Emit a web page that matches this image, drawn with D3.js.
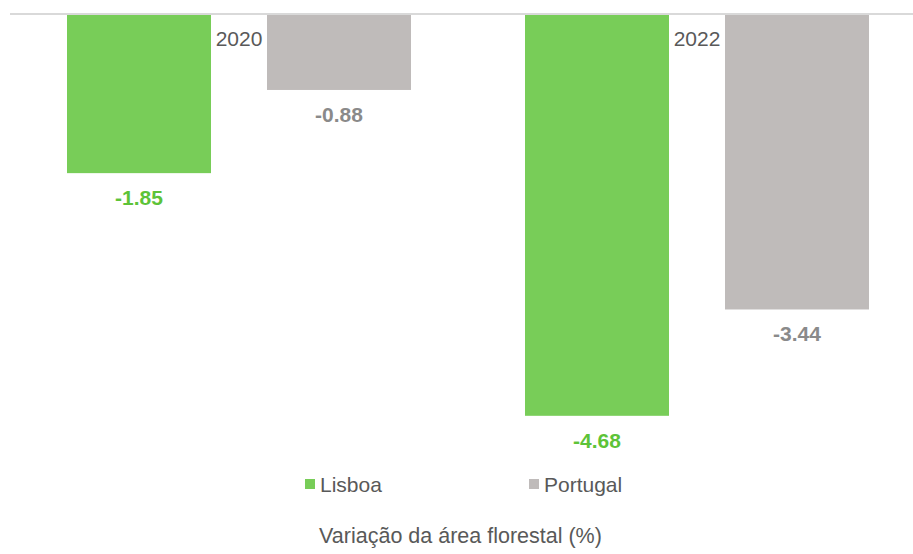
<!DOCTYPE html>
<html><head><meta charset="utf-8">
<script src="https://cdn.jsdelivr.net/npm/d3@7"></script>
<style>html,body{margin:0;padding:0;background:#fff;}svg{display:block;font-family:"Liberation Sans",Arial,sans-serif;}</style>
</head><body>
<svg id="chart" width="913" height="554"></svg>
<script>
const categories = ["2020", "2022"];
const seriesNames = ["Lisboa", "Portugal"];
const lisboa = [-1.85, -4.68];
const portugal = [-0.88, -3.44];
const title = "Variação da área florestal (%)";

const barColors = {Lisboa: "#78cd58", Portugal: "#bfbbba"};
const labelColors = {Lisboa: "#5dc338", Portugal: "#8a8a8a"};
const FONT = "'Liberation Sans', Arial, sans-serif";

const data = categories.map((c, i) => ({cat: c, values: [
  {s: "Lisboa", v: lisboa[i]}, {s: "Portugal", v: portugal[i]}]}));

const svg = d3.select("#chart");
const x0 = d3.scaleBand().domain(categories).range([10, 926]).padding(0);
const x1 = d3.scaleBand().domain(seriesNames).range([0, x0.bandwidth()]).paddingInner(0.28).paddingOuter(0.285);
const y = d3.scaleLinear().domain([0, -5]).range([14.5, 14.5 + 5 * 85.75]);

const g = svg.append("g");
const groups = g.selectAll("g.cat").data(data).join("g").attr("class", "cat")
  .attr("transform", d => `translate(${x0(d.cat)},0)`);

groups.selectAll("rect").data(d => d.values).join("rect")
  .attr("x", d => x1(d.s))
  .attr("width", x1.bandwidth())
  .attr("y", y(0))
  .attr("height", d => y(d.v) - y(0))
  .attr("fill", d => barColors[d.s]);

groups.selectAll("text.val").data(d => d.values).join("text").attr("class", "val")
  .attr("x", d => x1(d.s) + x1.bandwidth() / 2)
  .attr("y", d => y(d.v) + 32)
  .attr("text-anchor", "middle")
  .attr("font-family", FONT)
  .attr("font-size", 21).attr("font-weight", "bold")
  .attr("fill", d => labelColors[d.s])
  .text(d => d.v.toFixed(2));

// axis line at zero
svg.append("line").attr("x1", 10).attr("x2", 913).attr("y1", y(0) - 0.5).attr("y2", y(0) - 0.5)
  .attr("stroke", "#d9d9d9").attr("stroke-width", 2);

// category labels
const xAxis = d3.axisTop(x0).tickSize(0).tickPadding(0);
const ax = svg.append("g").attr("transform", `translate(0,46)`).call(xAxis);
ax.select(".domain").remove();
ax.selectAll("text").attr("font-size", 21).attr("fill", "#595959")
  .attr("font-family", FONT).attr("dy", 0);

// legend
const legendX = [305, 529];
const lg = svg.append("g").selectAll("g").data(seriesNames).join("g")
  .attr("transform", (d, i) => `translate(${legendX[i]},479)`);
lg.append("rect").attr("width", 10).attr("height", 10).attr("fill", d => barColors[d]);
lg.append("text").attr("x", 15).attr("y", 13).attr("font-family", FONT)
  .attr("font-size", 21).attr("fill", "#595959").text(d => d);

svg.append("text").attr("x", 460.5).attr("y", 543).attr("text-anchor", "middle")
  .attr("font-family", FONT)
  .attr("font-size", 21.5).attr("fill", "#595959").text(title);
</script>
</body></html>
